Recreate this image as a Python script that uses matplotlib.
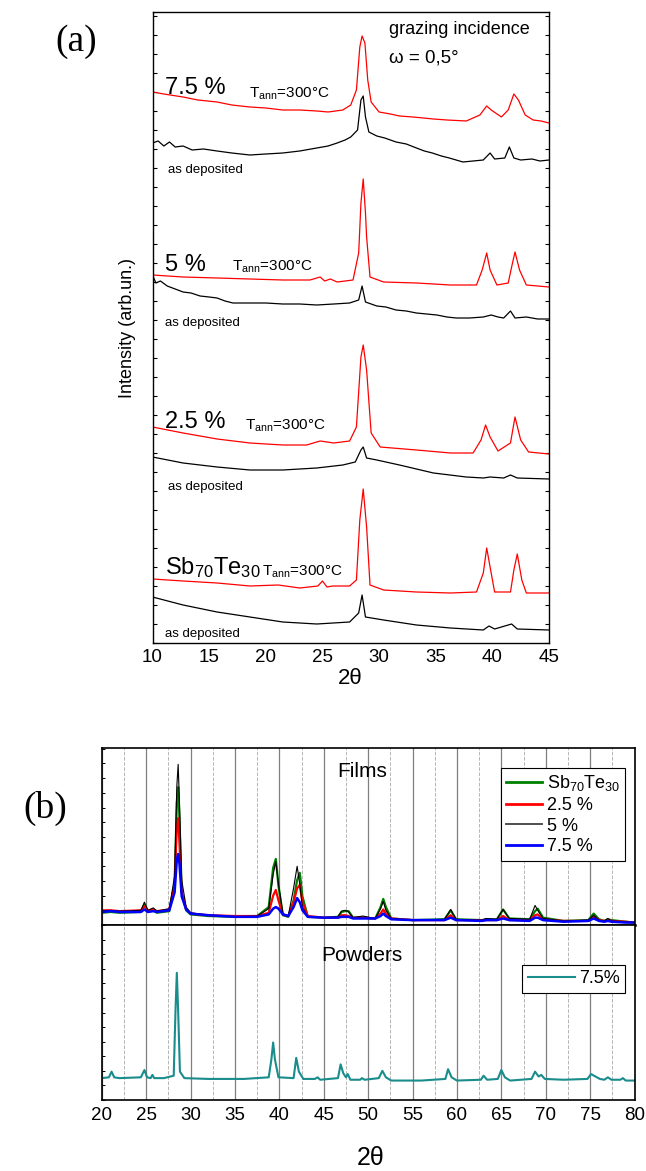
import matplotlib
matplotlib.use('Agg')
import matplotlib.pyplot as plt
from matplotlib.ticker import MultipleLocator

plt.rcParams['font.family'] = ['Liberation Sans', 'DejaVu Sans']
plt.rcParams['mathtext.fontset'] = 'custom'
plt.rcParams['mathtext.rm'] = 'Liberation Sans'
plt.rcParams['mathtext.it'] = 'Liberation Sans:italic'

# ---- (a) grazing incidence, offset traces (2theta, intensity arb.) ----
a75_ann_x = [10, 11, 12.7, 14, 15.7, 17, 18.6, 20, 21.5, 23, 24.5, 25.5, 26.8, 27.5, 28.0, 28.3, 28.5, 28.75,
             29.0, 29.3, 30.0, 31, 31.8, 33, 34.8, 36, 37.7, 38.9, 39.5, 39.9, 40.8, 41.4, 41.9, 42.3, 42.9,
             43.6, 44.3, 45]
a75_ann_y = [551, 549, 546, 543, 541, 538, 536, 535, 533, 533, 532, 531, 533, 538, 553, 596, 607, 600,
             563, 541, 531, 529, 527, 526, 524, 523, 522, 528, 537, 533, 526, 533, 549, 543, 528,
             523, 522, 520]
a75_dep_x = [10, 10.5, 11, 11.5, 12, 12.7, 13.5, 14.5, 15.7, 17, 18.6, 20, 21.5, 23, 24.5, 25.5, 26.3, 27,
             27.5, 28.1, 28.4, 28.6, 28.8, 29.1, 29.8, 30.5, 31.5, 32.4, 33.3, 34, 34.7, 35.5, 36.2, 37.4,
             38.3, 39.2, 39.8, 40.2, 41.1, 41.5, 41.9, 42.5, 43.5, 44.2, 45]
a75_dep_y = [500, 502, 497, 501, 496, 497, 493, 494, 492, 490, 488, 489, 490, 492, 495, 497, 500, 503,
             506, 513, 543, 547, 526, 511, 507, 505, 501, 499, 495, 492, 490, 487, 485, 481,
             482, 483, 490, 484, 485, 496, 485, 483, 484, 482, 483]

a5_ann_x = [10, 12.7, 15.7, 18.6, 21.5, 23.9, 24.8, 25.2, 25.7, 26.3, 27.7, 28.2, 28.4, 28.6, 28.8, 28.9,
            29.2, 30.4, 33.3, 36.3, 38.6, 39.1, 39.5, 39.8, 40.4, 41.4, 41.7, 42.0, 42.4, 43.0, 45]
a5_ann_y = [368, 366, 365, 364, 363, 363, 366, 362, 364, 361, 363, 390, 440, 464, 430, 406,
            366, 361, 360, 358, 358, 373, 390, 373, 358, 360, 376, 391, 373, 358, 356]
a5_dep_x = [10, 10.3, 10.7, 11.3, 12, 12.7, 13.4, 14.2, 15, 15.7, 16.4, 17.1, 18.6, 20, 21.5, 23, 24.5,
            26, 27.4, 28.2, 28.5, 28.8, 29.3, 29.8, 30.6, 31.5, 32.4, 33.3, 34.2, 35.1, 36, 36.8, 38,
            39.2, 39.9, 40.5, 41.0, 41.6, 42.0, 43, 44, 45]
a5_dep_y = [368, 360, 362, 357, 354, 351, 350, 347, 346, 345, 342, 340, 340, 340, 339, 339, 338,
            339, 340, 343, 357, 341, 339, 337, 336, 333, 332, 330, 329, 328, 326, 325, 325,
            326, 328, 326, 325, 332, 325, 326, 324, 324]

a25_ann_x = [10, 12.7, 15.7, 18.6, 21.5, 23.6, 24.8, 26.0, 27.4, 28.0, 28.4, 28.6, 28.9, 29.3, 30.1, 33.3,
             36.3, 38.3, 39.0, 39.4, 39.8, 40.5, 41.6, 42.0, 42.5, 43.2, 45]
a25_ann_y = [216, 210, 204, 200, 198, 198, 202, 200, 202, 216, 286, 298, 273, 210, 196, 193,
             190, 190, 203, 218, 206, 192, 200, 226, 203, 191, 189]
a25_dep_x = [10, 12.7, 15.7, 18.6, 21.5, 24.5, 26.8, 27.9, 28.4, 28.6, 28.9, 29.8, 31.8, 34.8, 37.7, 39.2,
             39.8, 41.0, 41.6, 42.2, 45]
a25_dep_y = [186, 180, 176, 173, 173, 175, 178, 181, 193, 196, 185, 183, 178, 170, 166, 165,
             166, 165, 168, 165, 164]

a0_ann_x = [10, 12.7, 15.7, 18.6, 21.1, 23.0, 24.6, 25.0, 25.4, 25.9, 27.4, 28.0, 28.3, 28.6, 28.9, 29.2,
            30.4, 33.3, 36.3, 38.6, 39.2, 39.5, 39.8, 40.2, 41.6, 41.9, 42.2, 42.6, 43.0, 45]
a0_ann_y = [64, 62, 60, 57, 58, 55, 57, 62, 56, 57, 57, 63, 123, 154, 116, 58,
            53, 51, 50, 51, 70, 95, 76, 51, 51, 73, 89, 63, 50, 50]
a0_dep_x = [10, 12.7, 15.7, 18.6, 21.5, 24.5, 27.4, 28.2, 28.5, 28.8, 30.4, 33.3, 36.3, 39.2, 39.7, 40.2,
            41.7, 42.2, 45]
a0_dep_y = [46, 38, 31, 26, 21, 19, 21, 30, 48, 26, 23, 18, 15, 13, 17, 14, 19, 14, 13]

# ---- (b) films and powders ----
film_x = [20, 21, 22, 24.4, 24.8, 25.2, 25.8, 26.2, 27.6, 28.2, 28.45, 28.6, 28.75, 29.0, 29.5, 30, 32, 35,
          37.5, 38.8, 39.3, 39.6, 39.9, 40.4, 41.0, 41.6, 42.0, 42.3, 42.6, 43.2, 45, 46.6, 47.0, 47.4,
          47.8, 48.3, 49.4, 50.8, 51.4, 51.7, 52.0, 52.6, 55, 58.6, 59.3, 59.9, 62.8, 63.3, 64.5, 65.2,
          65.9, 68.2, 68.8, 69.1, 69.7, 72, 74.8, 75.4, 76.0, 76.6, 77.0, 77.4, 79.0, 80]
film_sb70 = [15, 16, 15, 16, 25, 16, 18, 15, 17, 50, 150, 169, 130, 40, 18, 13, 11, 10, 11, 22, 70, 81, 48, 12,
             10, 30, 55, 64, 35, 10, 9, 10, 16, 17, 17, 9, 9, 8, 22, 32, 22, 8, 6, 7, 18, 7, 6, 7, 7, 19,
             8, 7, 17, 20, 9, 5, 6, 14, 7, 5, 7, 6, 4, 3]
film_25 = [18, 18, 17, 18, 23, 18, 19, 17, 19, 50, 120, 131, 100, 40, 20, 14, 12, 11, 11, 15, 36, 43, 30, 13,
           11, 28, 45, 49, 28, 11, 9, 9, 12, 12, 11, 9, 9, 8, 14, 19, 14, 8, 6, 6, 12, 6, 6, 6, 6, 11,
           6, 6, 12, 13, 7, 5, 5, 10, 6, 5, 6, 5, 4, 3]
film_5 = [17, 18, 17, 18, 28, 18, 21, 17, 20, 60, 170, 197, 150, 55, 22, 15, 12, 10, 11, 20, 62, 78, 50, 14,
          11, 45, 72, 50, 22, 10, 9, 10, 17, 18, 16, 9, 11, 8, 20, 29, 18, 8, 6, 7, 19, 7, 6, 8, 7, 19,
          8, 7, 24, 18, 8, 5, 6, 12, 6, 5, 8, 5, 4, 3]
film_75 = [16, 17, 16, 16, 19, 16, 17, 16, 18, 40, 80, 87, 75, 35, 19, 14, 12, 10, 10, 13, 20, 22, 20, 13,
           11, 22, 33, 28, 18, 10, 9, 9, 10, 10, 10, 8, 8, 8, 11, 14, 11, 7, 6, 6, 9, 6, 5, 6, 6, 8,
           6, 5, 9, 9, 6, 4, 5, 8, 5, 4, 5, 4, 3, 3]

pow_x = [20, 20.8, 21.1, 21.4, 22, 24.4, 24.8, 25.1, 25.5, 25.7, 25.9, 27, 28.1, 28.3, 28.45, 28.6, 28.8, 29.3,
         32, 36, 38.8, 39.1, 39.3, 39.5, 39.9, 41.6, 41.9, 42.2, 42.7, 44.0, 44.3, 44.6, 46.6, 46.9, 47.2,
         47.5, 47.7, 48.0, 49.1, 49.3, 49.6, 51.2, 51.6, 52.0, 52.6, 56, 58.7, 59.0, 59.4, 60.0, 62.7, 63.0,
         63.4, 64.6, 65.0, 65.4, 66, 68.4, 68.8, 69.2, 69.5, 69.9, 72, 74.7, 75.1, 75.6, 76.1, 76.6, 77.0,
         77.4, 78.4, 78.7, 79.0, 80]
pow_75 = [27, 28, 35, 28, 27, 28, 37, 28, 27, 31, 27, 27, 30, 110, 157, 110, 35, 27,
          26, 26, 28, 50, 71, 50, 28, 27, 52, 35, 26, 26, 28, 25, 27, 44, 33,
          28, 32, 25, 25, 27, 25, 27, 36, 28, 24, 24, 26, 38, 28, 24, 25, 30,
          25, 26, 37, 28, 24, 26, 35, 29, 31, 26, 25, 26, 32, 29, 26, 25, 28,
          25, 25, 27, 24, 24]

W, H = 646, 1171
fig = plt.figure(figsize=(W / 100, H / 100), dpi=100)


def fx(px):
    return px / W


def fy(py):
    return 1 - py / H


# panel (a)
ax = fig.add_axes([fx(152.5), fy(643), fx(549) - fx(152.5), fy(12) - fy(643)])
pairs = [(a75_ann_x, a75_ann_y, a75_dep_x, a75_dep_y),
         (a5_ann_x, a5_ann_y, a5_dep_x, a5_dep_y),
         (a25_ann_x, a25_ann_y, a25_dep_x, a25_dep_y),
         (a0_ann_x, a0_ann_y, a0_dep_x, a0_dep_y)]
for xr, yr, xb, yb in pairs:
    ax.plot(xr, yr, color='red', lw=0.9)
    ax.plot(xb, yb, color='black', lw=0.9)
ax.set_xlim(10, 45)
ax.set_ylim(0, 631)
ax.xaxis.set_major_locator(MultipleLocator(5))
ax.yaxis.set_major_locator(MultipleLocator(19))
ax.set_yticklabels([])
ax.tick_params(axis='y', direction='in', left=True, right=True, length=3, width=0.8)
ax.tick_params(axis='x', direction='in', length=0, labelsize=13.5, pad=4)
for s in ax.spines.values():
    s.set_linewidth(1.0)

fig.text(fx(76), fy(42), '(a)', family='Liberation Serif', fontsize=27, ha='center', va='center')
fig.text(fx(389), fy(29), 'grazing incidence', fontsize=13, ha='left', va='center')
fig.text(fx(389), fy(58), 'ω = 0,5°', fontsize=13.5, ha='left', va='center')
fig.text(fx(128), fy(328), 'Intensity (arb.un.)', fontsize=13, rotation=90, ha='center', va='center')
fig.text(fx(350), fy(678), '2θ', fontsize=16, ha='center', va='center')

labels_a = [('7.5 %', 88, 249, 94, 168, 170),
            ('5 %', 265, 232, 267, 165, 323),
            ('2.5 %', 422, 245, 426, 168, 487),
            ('Sb$_{70}$Te$_{30}$', 568, 262, 572, 165, 634)]
for name, ny, tx, ty, dx, dy in labels_a:
    fig.text(fx(165), fy(ny), name, fontsize=17, ha='left', va='center')
    fig.text(fx(tx), fy(ty), r'T$_{\mathrm{ann}}$=300°C', fontsize=11, ha='left', va='center')
    fig.text(fx(dx), fy(dy), 'as deposited', fontsize=9.5, ha='left', va='center')

# panel (b)
top_b, mid_b, bot_b = 748, 925, 1100
axf = fig.add_axes([fx(101.8), fy(mid_b), fx(634.5) - fx(101.8), fy(top_b) - fy(mid_b)])
axp = fig.add_axes([fx(101.8), fy(bot_b), fx(634.5) - fx(101.8), fy(mid_b) - fy(bot_b)], sharex=axf)

axf.plot(film_x, film_sb70, color='#008000', lw=1.6, label='Sb$_{70}$Te$_{30}$')
axf.plot(film_x, film_25, color='#ff0000', lw=1.6, label='2.5 %')
axf.plot(film_x, film_5, color='black', lw=0.8, label='5 %')
axf.plot(film_x, film_75, color='#0000ff', lw=1.8, label='7.5 %')
axp.plot(pow_x, pow_75, color='#1a8c8c', lw=1.5, label='7.5%')

for a in (axf, axp):
    a.set_xlim(20, 80)
    a.xaxis.set_major_locator(MultipleLocator(5))
    a.xaxis.set_minor_locator(MultipleLocator(2.5))
    a.grid(axis='x', which='major', color='#7f7f7f', lw=0.9, ls='-')
    a.grid(axis='x', which='minor', color='#b5b5b5', lw=0.7, ls='--')
    a.yaxis.set_major_locator(MultipleLocator(18))
    a.set_yticklabels([])
    a.tick_params(axis='y', direction='in', length=2.5, width=0.7)
    a.tick_params(axis='x', which='both', length=0)
    for s in a.spines.values():
        s.set_linewidth(1.2)
axf.spines['bottom'].set_linewidth(1.8)
axf.set_ylim(0, 217)
axp.set_ylim(0, 216)
axf.tick_params(axis='x', labelbottom=False)
axp.tick_params(axis='x', labelsize=13.5, pad=5)

axf.text(0.488, 0.87, 'Films', transform=axf.transAxes, fontsize=15, ha='center', va='center')
axp.text(0.488, 0.823, 'Powders', transform=axp.transAxes, fontsize=15, ha='center', va='center')

lf = axf.legend(loc='upper right', bbox_to_anchor=(0.983, 0.887), fontsize=13, frameon=True,
                fancybox=False, edgecolor='black', handlelength=2.0, handletextpad=0.25,
                borderpad=0.3, labelspacing=0.2, borderaxespad=0, framealpha=1)
lf.get_frame().set_linewidth(0.8)
for ln, w, c in zip(lf.get_lines(), [2.0, 2.0, 1.3, 2.0], ['#008000', '#ff0000', '#404040', '#0000ff']):
    ln.set_linewidth(w)
    ln.set_color(c)
lp = axp.legend(loc='upper right', bbox_to_anchor=(0.983, 0.771), fontsize=13, frameon=True,
                fancybox=False, edgecolor='black', handlelength=2.6, handletextpad=0.25,
                borderpad=0.3, borderaxespad=0, framealpha=1)
lp.get_frame().set_linewidth(0.8)

fig.text(fx(45), fy(808), '(b)', family='Liberation Serif', fontsize=27, ha='center', va='center')
fig.text(fx(371), fy(1158), '2θ', fontsize=18, ha='center', va='center')

fig.savefig('out.png', dpi=100)
